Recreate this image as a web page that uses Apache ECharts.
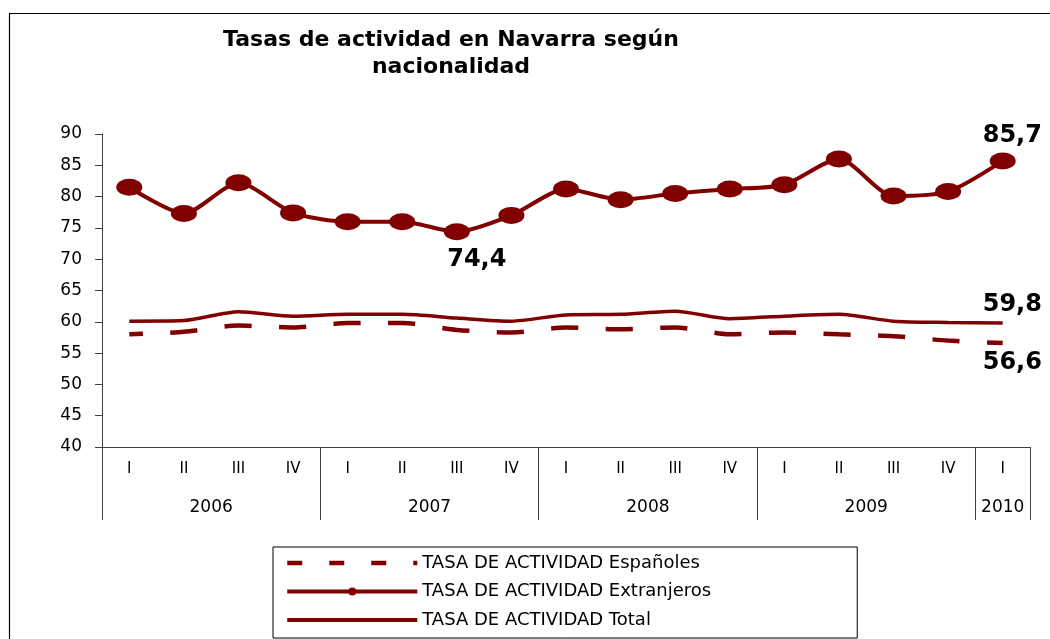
<!DOCTYPE html>
<html>
<head>
<meta charset="utf-8">
<script src="https://cdn.jsdelivr.net/npm/echarts@6/dist/echarts.min.js"></script>
<style>
  html, body { margin: 0; padding: 0; background: #fff; }
  #chart { width: 1050px; height: 639px; }
</style>
</head>
<body>
<div id="chart"></div>
<script>
// trimestres y años (eje x de dos niveles)
var quarters = ['I', 'II', 'III', 'IV', 'I', 'II', 'III', 'IV', 'I', 'II', 'III', 'IV', 'I', 'II', 'III', 'IV', 'I'];
var years = ['2006', '2007', '2008', '2009', '2010'];
var quartersPerYear = [4, 4, 4, 4, 1];

// tasas
var espanoles = [58.0, 58.4, 59.4, 59.1, 59.8, 59.8, 58.7, 58.3, 59.1, 58.8, 59.1, 58.0, 58.3, 58.0, 57.7, 57.0, 56.6];
var extranjeros = [81.5, 77.3, 82.2, 77.4, 76.0, 76.0, 74.4, 77.0, 81.2, 79.5, 80.5, 81.2, 81.9, 86.0, 80.1, 80.8, 85.7];
var total = [60.1, 60.2, 61.6, 60.9, 61.2, 61.2, 60.6, 60.1, 61.1, 61.2, 61.7, 60.5, 60.9, 61.2, 60.1, 59.9, 59.8];

var seriesNames = ['TASA DE ACTIVIDAD Españoles', 'TASA DE ACTIVIDAD Extranjeros', 'TASA DE ACTIVIDAD Total'];
var minIndex = 6; // punto destacado 74,4

var RED = '#800000';
var FONT = 'DejaVu Sans';

// separadores y centros de cada año sobre el eje de trimestres
var yearBounds = [0];
var yearCenters = [];
var yearByCenter = {};
quartersPerYear.forEach(function (n, i) {
    var start = yearBounds[yearBounds.length - 1];
    yearBounds.push(start + n);
    yearCenters.push(start + n / 2);
    yearByCenter[start + n / 2] = years[i];
});

function comma(v) {
    return String(v).replace('.', ',');
}

var bigLabel = { fontFamily: FONT, fontSize: 24, fontWeight: 'bold', color: '#000' };

var extData = extranjeros.map(function (v, i) {
    if (i !== minIndex) return v;
    return {
        value: v,
        label: Object.assign({ show: true, position: 'bottom', distance: 8, offset: [20, 0], formatter: function (p) { return comma(p.value); } }, bigLabel)
    };
});

var chart = echarts.init(document.getElementById('chart'));
var option = {
    animation: false,
    backgroundColor: '#fff',
    title: {
        text: 'Tasas de actividad en Navarra según\nnacionalidad',
        left: 446,
        top: 22,
        textAlign: 'center',
        textStyle: { fontFamily: FONT, fontSize: 22, fontWeight: 'bold', color: '#000', lineHeight: 27 }
    },
    graphic: [{
        type: 'rect',
        left: 7, top: 11,
        shape: { width: 1100, height: 700 },
        style: { fill: 'none', stroke: '#000', lineWidth: 1.2 },
        silent: true,
        z: -10
    }],
    legend: {
        orient: 'vertical',
        left: 273,
        top: 547,
        padding: [7, 146, 9, 12],
        itemWidth: 130,
        itemHeight: 10,
        itemGap: 10.5,
        borderColor: '#000',
        borderWidth: 1,
        backgroundColor: '#fff',
        lineStyle: { width: 4 },
        textStyle: { fontFamily: FONT, fontSize: 18, color: '#000' },
        data: [
            { name: seriesNames[0], lineStyle: { type: [15, 27], dashOffset: 0, width: 4.5 }, itemStyle: { opacity: 0 } },
            { name: seriesNames[1] },
            { name: seriesNames[2], itemStyle: { opacity: 0 } }
        ]
    },
    grid: { left: 102, right: 20, top: 134, bottom: 192 },
    xAxis: [{
        type: 'category',
        position: 'bottom',
        data: quarters,
        boundaryGap: true,
        axisLine: { lineStyle: { color: '#404040', width: 1 } },
        axisTick: { interval: 0, length: 36, lineStyle: { color: '#404040' } },
        axisLabel: { interval: 0, margin: 15, fontFamily: FONT, fontSize: 15, color: '#000' }
    }, {
        type: 'value',
        position: 'bottom',
        min: 0,
        max: quarters.length,
        axisLine: { show: false },
        splitLine: { show: false },
        axisTick: { show: true, customValues: yearBounds, length: 73, lineStyle: { color: '#404040' } },
        axisLabel: {
            customValues: yearCenters,
            margin: 52,
            fontFamily: FONT, fontSize: 17, color: '#000',
            formatter: function (v) { return yearByCenter[v] || ''; }
        }
    }],
    yAxis: {
        type: 'value',
        min: 40,
        max: 90,
        interval: 5,
        axisLine: { show: true, lineStyle: { color: '#404040', width: 1 } },
        axisTick: { show: true, length: 7, lineStyle: { color: '#404040' } },
        splitLine: { show: false },
        axisLabel: { margin: 20, fontFamily: FONT, fontSize: 17, color: '#000' }
    },
    series: [{
        name: seriesNames[0],
        type: 'line',
        data: espanoles,
        smooth: 0.25,
        symbol: 'none',
        color: RED,
        lineStyle: { color: RED, width: 4.5, type: [27.3, 27.3], dashOffset: 13.65, cap: 'butt' },
        endLabel: Object.assign({ show: true, distance: 0, offset: [-20, 20], formatter: function (p) { return comma(p.value); } }, bigLabel),
        z: 2
    }, {
        name: seriesNames[1],
        type: 'line',
        data: extData,
        smooth: 0.25,
        symbol: 'circle',
        symbolSize: [26, 17],
        color: RED,
        itemStyle: { color: RED },
        lineStyle: { color: RED, width: 4 },
        endLabel: Object.assign({ show: true, distance: 0, offset: [-20, -25], formatter: function (p) { return comma(p.value); } }, bigLabel),
        z: 3
    }, {
        name: seriesNames[2],
        type: 'line',
        data: total,
        smooth: 0.25,
        symbol: 'none',
        color: RED,
        lineStyle: { color: RED, width: 3.5 },
        endLabel: Object.assign({ show: true, distance: 0, offset: [-20, -18], formatter: function (p) { return comma(p.value); } }, bigLabel),
        z: 2
    }]
};
chart.setOption(option);
</script>
</body>
</html>
